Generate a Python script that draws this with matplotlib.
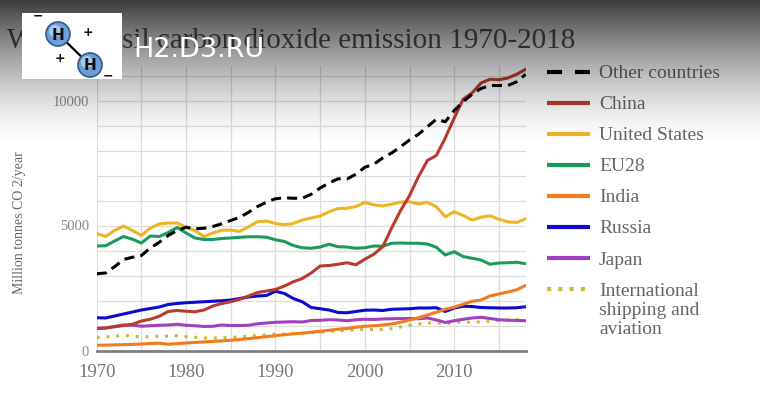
import numpy as np
import matplotlib
matplotlib.use('Agg')
import matplotlib.pyplot as plt
from matplotlib.patches import Rectangle, Circle

# Datos (millones de toneladas de CO2 por año)
years = list(range(1970, 2019))

other = [3070, 3100, 3350, 3640, 3730, 3800, 4100, 4330, 4600, 4800,
         4930, 4870, 4890, 4960, 5070, 5200, 5330, 5530, 5760, 5930,
         6070, 6110, 6090, 6090, 6250, 6500, 6700, 6870, 6860, 7050,
         7330, 7450, 7700, 7900, 8150, 8420, 8650, 8950, 9250, 9150,
         9600, 9950, 10250, 10480, 10600, 10600, 10600, 10750, 11050]
china = [880, 900, 950, 1000, 1050, 1180, 1250, 1370, 1560, 1600,
         1570, 1550, 1620, 1780, 1880, 1950, 2050, 2180, 2320, 2380,
         2440, 2580, 2750, 2880, 3100, 3380, 3400, 3450, 3510, 3430,
         3650, 3850, 4150, 4900, 5600, 6200, 6950, 7600, 7800, 8500,
         9300, 10050, 10300, 10700, 10850, 10830, 10900, 11050, 11250]
usa = [4680, 4560, 4800, 4980, 4800, 4600, 4900, 5060, 5100, 5100,
       4930, 4800, 4550, 4700, 4810, 4820, 4760, 4950, 5150, 5180,
       5080, 5030, 5080, 5220, 5300, 5380, 5550, 5680, 5690, 5760,
       5920, 5830, 5780, 5850, 5930, 5950, 5860, 5930, 5750, 5350,
       5550, 5400, 5220, 5330, 5390, 5250, 5150, 5120, 5270]
eu28 = [4180, 4190, 4380, 4560, 4450, 4300, 4580, 4560, 4720, 4920,
        4700, 4500, 4440, 4440, 4480, 4500, 4530, 4550, 4550, 4530,
        4430, 4360, 4200, 4110, 4090, 4140, 4250, 4150, 4140, 4090,
        4110, 4180, 4170, 4290, 4300, 4290, 4290, 4260, 4130, 3820,
        3950, 3760, 3690, 3620, 3450, 3500, 3510, 3530, 3470]
india = [210, 215, 225, 235, 245, 260, 280, 290, 250, 275,
         300, 320, 345, 365, 385, 410, 440, 475, 515, 555,
         590, 630, 665, 695, 730, 770, 810, 850, 880, 930,
         970, 990, 1020, 1060, 1130, 1220, 1310, 1420, 1530, 1650,
         1730, 1850, 1970, 2020, 2180, 2260, 2340, 2430, 2600]
russia = [1310, 1300, 1380, 1460, 1540, 1620, 1680, 1740, 1840, 1880,
          1910, 1930, 1950, 1970, 1990, 2020, 2080, 2140, 2180, 2200,
          2370, 2280, 2080, 1950, 1720, 1670, 1620, 1520, 1510, 1560,
          1610, 1620, 1600, 1650, 1660, 1670, 1700, 1700, 1710, 1560,
          1700, 1770, 1760, 1720, 1710, 1700, 1700, 1710, 1750]
japan = [880, 900, 960, 1020, 1010, 970, 990, 1010, 1020, 1050,
         1010, 990, 960, 970, 1020, 1000, 1000, 1010, 1070, 1100,
         1130, 1140, 1150, 1140, 1200, 1210, 1230, 1220, 1190, 1230,
         1250, 1240, 1260, 1270, 1280, 1280, 1270, 1300, 1220, 1120,
         1190, 1250, 1300, 1330, 1280, 1230, 1210, 1200, 1190]
shipping = [520, 540, 570, 600, 580, 540, 560, 570, 580, 590,
            560, 530, 500, 500, 510, 520, 550, 570, 600, 630,
            650, 660, 680, 690, 710, 730, 760, 790, 800, 820,
            850, 830, 840, 870, 940, 1010, 1060, 1100, 1110, 1060,
            1120, 1140, 1130, 1150, 1170, 1200, 1220, 1240, 1260]

# nombre, valores, estilo en el gráfico, estilo en la leyenda
series = [
    ('Other countries', other, dict(color='black', dashes=(3.3, 2.0)), dict(dashes=(3.6, 3.1))),
    ('China', china, dict(color='#b83b2e'), {}),
    ('United States', usa, dict(color='#f0b323'), {}),
    ('EU28', eu28, dict(color='#1b9a5c'), {}),
    ('India', india, dict(color='#f27b1c'), {}),
    ('Russia', russia, dict(color='#0a0ad0'), {}),
    ('Japan', japan, dict(color='#a03fc2'), {}),
    ('International\nshipping and\naviation', shipping,
     dict(color='#c9bb3a', dashes=(1.0, 2.2)), dict(dashes=(1.0, 1.7))),
]

serif = ['Liberation Serif', 'DejaVu Serif']
W, H = 760, 399

fig = plt.figure(figsize=(W / 100, H / 100), dpi=100)
fig.patch.set_facecolor('white')

# Eje principal (en píxeles: x 96.7..525.7, y 65.5..350.5)
ax = fig.add_axes([96.7 / W, (H - 350.5) / H, 429 / W, 285 / H])
ax.set_facecolor('white')

for i in reversed(range(len(series))):
    name, vals, st, _ = series[i]
    ax.plot(years, vals, lw=2.2, solid_capstyle='round', zorder=3 + (len(series) - i) * 0.01, **st)

ax.set_xlim(1970, 2018)
ax.set_ylim(0, 11400)
ax.set_xticks([1970, 1980, 1990, 2000, 2010])
ax.set_xticks(range(1975, 2018, 5), minor=True)
ax.set_yticks([0, 5000, 10000])
ax.set_yticks(range(0, 11001, 1000), minor=True)
ax.grid(True, which='both', color='#dcdcdc', lw=0.9, zorder=0)
ax.set_axisbelow(True)
ax.tick_params(which='both', length=0)
ax.tick_params(axis='y', pad=5.5, labelsize=10.5, labelcolor='#888888')
ax.tick_params(axis='x', pad=9.5, labelsize=13.5, labelcolor='#777777')
for lab in ax.get_xticklabels() + ax.get_yticklabels():
    lab.set_family(serif)
for s in ['left', 'right', 'top']:
    ax.spines[s].set_visible(False)
ax.spines['bottom'].set_color('#7f7f7f')
ax.spines['bottom'].set_linewidth(2)

ax.set_ylabel('Million tonnes CO 2/year', family=serif, fontsize=10, color='#666666')
ax.yaxis.set_label_coords(-0.165, 0.447)

# Capa superior en píxeles: título, leyenda, degradado, logo
ov = fig.add_axes([0, 0, 1, 1], zorder=10)
ov.set_xlim(0, W)
ov.set_ylim(H, 0)
ov.axis('off')
ov.patch.set_alpha(0)

ov.text(291, 48, 'World fossil carbon dioxide emission 1970-2018', family=serif,
        fontsize=21, color='#555555', ha='center', va='baseline', zorder=1)

# Leyenda manual
ly = 71.5
for name, vals, st, lst in series:
    style = dict(st)
    style.update(lst)
    ov.plot([547, 590], [ly, ly], lw=3, solid_capstyle='butt', zorder=1, **style)
    # va='baseline' en texto de varias líneas usa la última línea
    extra = name.count('\n') * 19
    ov.text(599, ly + 6.5 + extra, name, family=serif, fontsize=14, color='#666666',
            ha='left', va='baseline', linespacing=1.14, zorder=1)
    ly += 31.1

# Degradado oscuro en la parte superior
rows = np.arange(H)
alpha = 0.77 * np.clip(1 - rows / 145.0, 0, 1) ** 1.5
grad = np.zeros((H, 1, 4))
grad[:, 0, 3] = alpha
ov.imshow(grad, extent=[0, W, H, 0], aspect='auto', zorder=2, interpolation='bilinear')

# Logo
ov.add_patch(Rectangle((22, 13), 100, 66, facecolor='white', edgecolor='none', zorder=3))
ov.plot([58, 90], [34, 65], color='black', lw=1.6, zorder=3.5)
for cx, cy in [(58, 34), (90, 65)]:
    ov.add_patch(Circle((cx, cy), 12, facecolor='#6d9fd6', edgecolor='#2f5a8c', lw=1.2, zorder=4))
    ov.add_patch(Circle((cx - 3, cy - 3), 6, facecolor='#a9c9ee', edgecolor='none', zorder=4.1))
    ov.text(cx, cy + 1, 'H', fontsize=11, weight='bold', color='#111111',
            ha='center', va='center', zorder=5, family='DejaVu Sans')
for sx, sy, sgn in [(88, 33, '+'), (60, 58, '+'), (38, 16, '\u2212'), (108, 76, '\u2212')]:
    ov.text(sx, sy, sgn, fontsize=9, weight='bold', color='#111111',
            ha='center', va='center', zorder=5, family='DejaVu Sans')

ov.text(133, 57, 'H2.D3.RU', family='DejaVu Sans', fontsize=19.5, color='white',
        ha='left', va='baseline', zorder=5)

fig.savefig('out.png', dpi=100)
